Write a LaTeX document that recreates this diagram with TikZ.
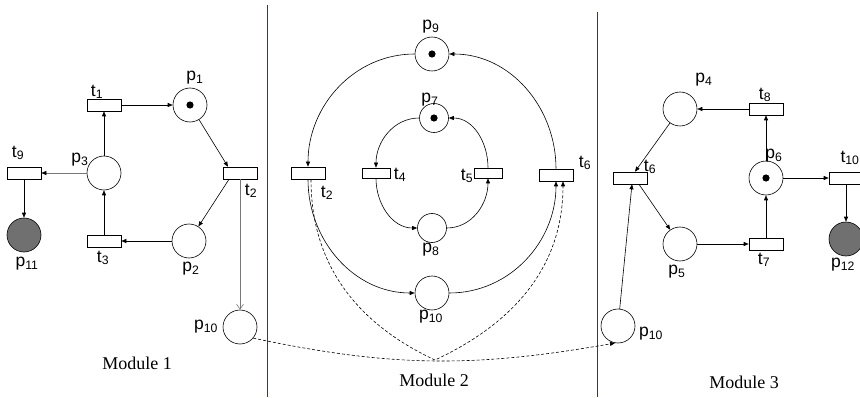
\documentclass[tikz,border=0pt]{standalone}
\usepackage{fontspec}
\setmainfont{Liberation Serif}
\newfontfamily\arialfont{Liberation Sans}
\usepackage{xcolor}
\usepackage{tikz}
\usetikzlibrary{arrows.meta,calc}
\definecolor{sepblue} {RGB}{45,50,140}
\definecolor{deadgray}{RGB}{112,112,112}
\definecolor{arcgray} {RGB}{120,120,120}
\tikzset{
  place/.style   ={draw, circle, minimum size=34pt, inner sep=0pt,
                   line width=0.6pt, fill=white},
  splace/.style  ={place, minimum size=29pt},
  endplace/.style={place, fill=deadgray},
  trans/.style   ={draw, rectangle, minimum width=34pt, minimum height=12pt,
                   inner sep=0pt, line width=0.6pt, fill=white},
  strans/.style  ={trans, minimum width=28pt, minimum height=10pt},
  plbl/.style    ={font=\arialfont\fontsize{17.5}{20}\selectfont, inner sep=0pt},
  modlbl/.style  ={font=\fontsize{18}{21}\selectfont, inner sep=0pt},
  arr/.style     ={-{Triangle[length=5pt,width=4pt]}, line width=0.6pt},
  garr/.style    ={-{Triangle[length=5pt,width=4pt,black]}, line width=0.6pt, draw=arcgray},
  oarr/.style    ={-{Straight Barb[length=5pt,width=7pt]}, line width=0.6pt, draw=arcgray},
  darr/.style    ={arr, dash pattern=on 3pt off 2pt},
  sepline/.style ={draw=sepblue, line width=1pt},
}
%% token inside a place
\newcommand{\tok}[1]{\fill (#1.center) circle (3.6pt);}
\begin{document}
\begin{tikzpicture}[x=1pt,y=1pt]
  \useasboundingbox (0,0) rectangle (860,397);
  \clip (0,0) rectangle (860,397);
  %% module borders
  \draw[sepline] (267,392) -- (267,0);
  \draw[sepline] (597,385) -- (597,0);

  %% Module 1
  \node[trans]    (t1)   at (104,292) {};
  \node[place]    (p1)   at (190,292) {};
  \node[trans]    (t2a)  at (240,224) {};
  \node[place]    (p3)   at (104,224) {};
  \node[trans]    (t9)   at (24,224)  {};
  \node[endplace] (p11)  at (24,162)  {};
  \node[trans]    (t3)   at (104,156) {};
  \node[place]    (p2)   at (189,156) {};
  \node[place]    (p10a) at (240,70)  {};
  \tok{p1}

  \node[plbl] (lt1)   at (97,305)  {t\textsubscript{1}};
  \node[plbl] (lp1)   at (195,319) {p\textsubscript{1}};
  \node[plbl] (lp3)   at (80,237)  {p\textsubscript{3}};
  \node[plbl] (lt9)   at (18,244)  {t\textsubscript{9}};
  \node[plbl] (lp11)  at (27,133)  {p\textsubscript{11}};
  \node[plbl] (lt3)   at (103,139) {t\textsubscript{3}};
  \node[plbl] (lp2)   at (191,128) {p\textsubscript{2}};
  \node[plbl] (lt2a)  at (251,206) {t\textsubscript{2}};
  \node[plbl] (lp10a) at (206,70)  {p\textsubscript{10}};
  \node[modlbl] (mod1) at (137,34) {Module 1};

  \draw[arr] (t1) -- (p1);
  \draw[arr] (p1) -- ([xshift=-12pt]t2a.north);
  \draw[arr] ([xshift=-11pt]t2a.south) -- (p2);
  \draw[arr] (p2) -- (t3);
  \draw[arr] (t3) -- (p3);
  \draw[arr] (p3) -- (t1);
  \draw[garr] (p3) -- (t9);
  \draw[arr] (t9) -- (p11);
  \draw[oarr] (t2a) -- (p10a);

  %% Module 2
  \node[place]   (p9)   at (432,343) {};
  \node[splace]  (p7)   at (434,279) {};
  \node[trans]   (t2b)  at (308,224) {};
  \node[strans]  (t4)   at (376,224) {};
  \node[strans]  (t5)   at (488,224) {};
  \node[trans]   (t6b)  at (556,222) {};
  \node[splace]  (p8)   at (432,169) {};
  \node[place]   (p10b) at (432,104) {};
  \coordinate (cross) at (435,37);
  \tok{p9}
  \tok{p7}

  \node[plbl] (lp9)   at (431,370) {p\textsubscript{9}};
  \node[plbl] (lp7)   at (430,297) {p\textsubscript{7}};
  \node[plbl] (lt2b)  at (327,204) {t\textsubscript{2}};
  \node[plbl] (lt4)   at (400,222) {t\textsubscript{4}};
  \node[plbl] (lt5)   at (467,221) {t\textsubscript{5}};
  \node[plbl] (lt6b)  at (585,234) {t\textsubscript{6}};
  \node[plbl] (lp8)   at (431,147) {p\textsubscript{8}};
  \node[plbl] (lp10b) at (431,80)  {p\textsubscript{10}};
  \node[modlbl] (mod2) at (434,17) {Module 2};

  \draw[arr] (p9) to[out=180,in=90] (t2b);
  \draw[arr] (t2b) to[out=-90,in=180] (p10b);
  \draw[arr] (p10b) to[out=0,in=-90] (t6b);
  \draw[arr] (t6b) to[out=90,in=0] (p9);
  \draw[arr] (p7) to[out=180,in=90] (t4);
  \draw[arr] (t4) to[out=-90,in=180] (p8);
  \draw[arr] (p8) to[out=0,in=-90] (t5);
  \draw[arr] (t5) to[out=90,in=0] (p7);
  \draw[darr] ([xshift=3pt]t2b.south) to[out=-90,in=155] (cross)
              to[out=25,in=-90] ([xshift=7pt]t6b.south);

  %% Module 3
  \node[place]    (p4)   at (680,288) {};
  \node[trans]    (t8)   at (766,288) {};
  \node[trans]    (t6c)  at (630,219) {};
  \node[place]    (p6)   at (766,219) {};
  \node[trans]    (t10)  at (846,219) {};
  \node[endplace] (p12)  at (846,158) {};
  \node[place]    (p5)   at (680,153) {};
  \node[trans]    (t7)   at (766,153) {};
  \node[place]    (p10c) at (618,71)  {};
  \tok{p6}

  \node[plbl] (lp4)   at (704,317) {p\textsubscript{4}};
  \node[plbl] (lt8)   at (765,302) {t\textsubscript{8}};
  \node[plbl] (lp6)   at (774,241) {p\textsubscript{6}};
  \node[plbl] (lt10)  at (850,239) {t\textsubscript{10}};
  \node[plbl] (lt6c)  at (650,230) {t\textsubscript{6}};
  \node[plbl] (lp5)   at (677,125) {p\textsubscript{5}};
  \node[plbl] (lt7)   at (764,137) {t\textsubscript{7}};
  \node[plbl] (lp12)  at (843,132) {p\textsubscript{12}};
  \node[plbl] (lp10c) at (651,63)  {p\textsubscript{10}};
  \node[modlbl] (mod3) at (744,15) {Module 3};

  \draw[arr] (t8) -- (p4);
  \draw[arr] (p6) -- (t8);
  \draw[arr] (t7) -- (p6);
  \draw[arr] (p5) -- (t7);
  \draw[arr] (p6) -- (t10);
  \draw[arr] (t10) -- (p12);
  \draw[arr] (p4) -- ([xshift=5pt]t6c.north);
  \draw[arr] ([xshift=9pt]t6c.south) -- (p5);
  \draw[arr] (p10c) -- ([xshift=2pt]t6c.south);

  %% fused place p10
  \draw[darr] (p10a.-40) to[out=-12,in=190] (p10c.-100);
\end{tikzpicture}
\end{document}
